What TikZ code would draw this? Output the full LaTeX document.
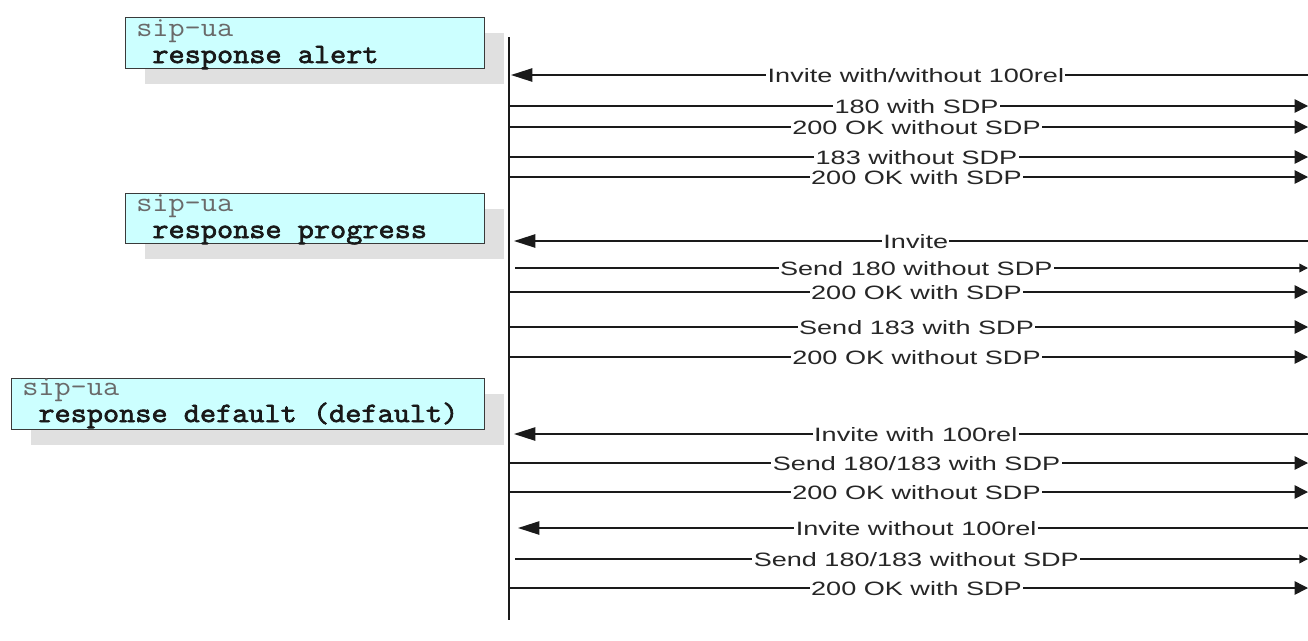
\documentclass[tikz,border=0pt]{standalone}
\usepackage{fontspec}
\usetikzlibrary{arrows.meta,shadows}
\newfontfamily\arialf[FakeStretch=1.4]{Liberation Sans}
\newfontfamily\courr[FakeStretch=1.12]{Latin Modern Mono}
\newfontfamily\courb[FakeBold=2.5,FakeStretch=1.12]{Latin Modern Mono}
\definecolor{boxfill}{HTML}{CCFFFF}
\definecolor{boxline}{HTML}{3A3A3A}
\definecolor{shadowc}{HTML}{E0E0E0}
\definecolor{linec}{HTML}{1A1A1A}
\definecolor{cmdgray}{HTML}{6A6A6A}
\tikzset{
  cfgbox/.style={draw=boxline, line width=1.1pt, fill=boxfill, anchor=north west, inner sep=0pt,
    drop shadow={shadow xshift=14.25pt, shadow yshift=-11.25pt, fill=shadowc, opacity=1}},
  cmdtop/.style={anchor=base west, inner sep=0pt, text depth=0pt, text=cmdgray, font=\courr\fontsize{21}{21}\selectfont},
  cmdsub/.style={anchor=base west, inner sep=0pt, text height=9pt, text=black!90, font=\courb\fontsize{21}{21}\selectfont},
  msg/.style={draw=linec, line width=1.1pt},
  rarr/.style={msg, -{Triangle[length=10pt,width=10pt]}},
  rarrs/.style={msg, -{Triangle[length=6.5pt,width=6.5pt]}},
  larr/.style={msg, -{Triangle[length=16pt,width=10pt]}},
  lbl/.style={fill=white, inner xsep=1pt, inner ysep=1pt, text height=10.5pt, text depth=0pt,
    text=black!85, font=\arialf\fontsize{14.5}{14.5}\selectfont},
  lifeline/.style={draw=linec, line width=1.6pt}
}
\begin{document}
\begin{tikzpicture}[x=0.75pt,y=-0.75pt]
\useasboundingbox (0,0) rectangle (1308,640);
% configuration boxes
\node[cfgbox, minimum width=269.25pt, minimum height=38.25pt] (b1) at (125,17) {};
\node[cmdtop] (b1a) at (136,36) {sip-ua};
\node[cmdsub] (b1b) at (136,63) {\ response alert};
\node[cfgbox, minimum width=269.25pt, minimum height=37.5pt] (b2) at (125,193) {};
\node[cmdtop] (b2a) at (136,211) {sip-ua};
\node[cmdsub] (b2b) at (136,238) {\ response progress};
\node[cfgbox, minimum width=354.75pt, minimum height=38.25pt] (b3) at (11,378) {};
\node[cmdtop] (b3a) at (22,395) {sip-ua};
\node[cmdsub] (b3b) at (22,422) {\ response default (default)};
% lifeline
\coordinate (lt) at (509,37);
\coordinate (lb) at (509,620);
\draw[lifeline] (lt) -- (lb);
% messages
\coordinate (r1) at (1308,75);  \coordinate (l1) at (511,75);
\draw[larr] (r1) -- node[lbl,pos=0.492]{Invite with/without 100rel} (l1);
\coordinate (l2) at (509,106);  \coordinate (r2) at (1308,106);
\draw[rarr] (l2) -- node[lbl,pos=0.51]{180 with SDP} (r2);
\coordinate (l3) at (509,127);  \coordinate (r3) at (1308,127);
\draw[rarr] (l3) -- node[lbl,pos=0.51]{200 OK without SDP} (r3);
\coordinate (l4) at (509,157);  \coordinate (r4) at (1308,157);
\draw[rarr] (l4) -- node[lbl,pos=0.51]{183 without SDP} (r4);
\coordinate (l5) at (509,177);  \coordinate (r5) at (1308,177);
\draw[rarr] (l5) -- node[lbl,pos=0.51]{200 OK with SDP} (r5);
\coordinate (r6) at (1308,241);  \coordinate (l6) at (514,241);
\draw[larr] (r6) -- node[lbl,pos=0.494]{Invite} (l6);
\coordinate (l7) at (515,268);  \coordinate (r7) at (1308,268);
\draw[rarrs] (l7) -- node[lbl,pos=0.506]{Send 180 without SDP} (r7);
\coordinate (l8) at (509,292);  \coordinate (r8) at (1308,292);
\draw[rarr] (l8) -- node[lbl,pos=0.51]{200 OK with SDP} (r8);
\coordinate (l9) at (509,327);  \coordinate (r9) at (1308,327);
\draw[rarr] (l9) -- node[lbl,pos=0.51]{Send 183 with SDP} (r9);
\coordinate (l10) at (509,357);  \coordinate (r10) at (1308,357);
\draw[rarr] (l10) -- node[lbl,pos=0.51]{200 OK without SDP} (r10);
\coordinate (r11) at (1308,434);  \coordinate (l11) at (514,434);
\draw[larr] (r11) -- node[lbl,pos=0.494]{Invite with 100rel} (l11);
\coordinate (l12) at (509,463);  \coordinate (r12) at (1308,463);
\draw[rarr] (l12) -- node[lbl,pos=0.51]{Send 180/183 with SDP} (r12);
\coordinate (l13) at (509,492);  \coordinate (r13) at (1308,492);
\draw[rarr] (l13) -- node[lbl,pos=0.51]{200 OK without SDP} (r13);
\coordinate (r14) at (1308,528);  \coordinate (l14) at (518,528);
\draw[larr] (r14) -- node[lbl,pos=0.496]{Invite without 100rel} (l14);
\coordinate (l15) at (515,559);  \coordinate (r15) at (1308,559);
\draw[rarrs] (l15) -- node[lbl,pos=0.506]{Send 180/183 without SDP} (r15);
\coordinate (l16) at (509,588);  \coordinate (r16) at (1308,588);
\draw[rarr] (l16) -- node[lbl,pos=0.51]{200 OK with SDP} (r16);
\end{tikzpicture}
\end{document}
